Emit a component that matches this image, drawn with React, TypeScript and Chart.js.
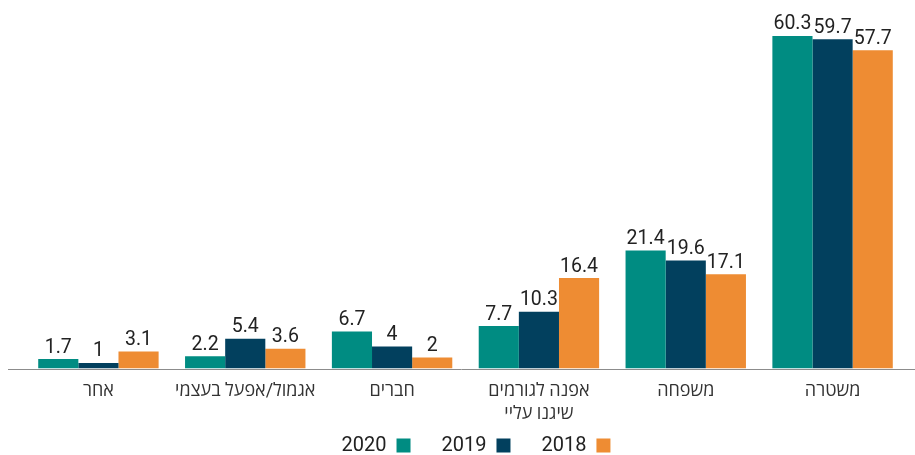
import React, { useEffect, useRef } from "react";
import { Chart, registerables } from "chart.js";

Chart.register(...registerables);

const categories: (string | string[])[] = [
  "אחר",
  "אגמול/אפעל בעצמי",
  "חברים",
  ["אפנה לגורמים", "שיגנו עליי"],
  "משפחה",
  "משטרה",
];
const seriesNames = ["2020", "2019", "2018"];
const values2020 = [1.7, 2.2, 6.7, 7.7, 21.4, 60.3];
const values2019 = [1, 5.4, 4, 10.3, 19.6, 59.7];
const values2018 = [3.1, 3.6, 2, 16.4, 17.1, 57.7];
const seriesColors = ["#008C82", "#02405E", "#EE8C33"];

const FONT = "Roboto, 'Open Sans', 'Liberation Sans', sans-serif";

const valueLabelsPlugin = {
  id: "valueLabels",
  afterDatasetsDraw(chart: any) {
    const ctx = chart.ctx;
    ctx.save();
    ctx.font = `19.5px ${FONT}`;
    ctx.fillStyle = "#222222";
    ctx.textAlign = "center";
    ctx.textBaseline = "alphabetic";
    chart.data.datasets.forEach((ds: any, di: number) => {
      const meta = chart.getDatasetMeta(di);
      meta.data.forEach((bar: any, i: number) => {
        const v = ds.data[i];
        ctx.fillText(String(v), bar.x, bar.y - 6.5);
      });
    });
    ctx.restore();
  },
};

const baselinePlugin = {
  id: "baseline",
  afterDatasetsDraw(chart: any) {
    const ctx = chart.ctx;
    const y = Math.round(chart.scales.y.getPixelForValue(0)) + 0.5;
    ctx.save();
    ctx.strokeStyle = "#8C8C8C";
    ctx.lineWidth = 1;
    ctx.beginPath();
    ctx.moveTo(8, y);
    ctx.lineTo(chart.width, y);
    ctx.stroke();
    ctx.restore();
  },
};

const layoutTweakPlugin = {
  id: "layoutTweak",
  afterLayout(chart: any) {
    const l = chart.legend;
    if (l) {
      l.left += 10.5;
      l.right += 10.5;
      l.top += 10.5;
      l.bottom += 10.5;
    }
    const x = chart.scales.x;
    if (x) {
      // let the category labels extend below the compact axis box (no clipping)
      x.bottom = chart.height;
    }
  },
};

export default function App() {
  const ref = useRef<HTMLCanvasElement | null>(null);
  useEffect(() => {
    if (!ref.current) return;
    const chart = new Chart(ref.current, {
      type: "bar",
      data: {
        labels: categories,
        datasets: [values2020, values2019, values2018].map((d, i) => ({
          label: seriesNames[i],
          data: d,
          backgroundColor: seriesColors[i],
          borderWidth: 0,
          barPercentage: 1,
          categoryPercentage: 0.82,
        })),
      },
      options: {
        animation: false,
        responsive: false,
        maintainAspectRatio: false,
        layout: { padding: { left: 25, right: 9, top: 10, bottom: 0 } },
        scales: {
          x: {
            grid: { display: false, drawTicks: false },
            border: { display: false },
            afterFit(scale: any) {
              scale.height = 25.5;
            },
            ticks: {
              color: "#333333",
              padding: 12,
              font: { family: FONT, size: 18, lineHeight: 1.25 },
              maxRotation: 0,
              autoSkip: false,
            },
          },
          y: {
            display: false,
            min: 0,
            max: 65,
          },
        },
        plugins: {
          legend: {
            position: "bottom",
            rtl: true,
            reverse: true,
            textDirection: "rtl",
            labels: {
              boxWidth: 14,
              boxHeight: 14,
              padding: 31,
              color: "#222222",
              font: { family: FONT, size: 20 },
            },
          },
          tooltip: { enabled: false },
        },
      },
      plugins: [valueLabelsPlugin, baselinePlugin, layoutTweakPlugin],
    });
    return () => chart.destroy();
  }, []);
  return (
    <>
      <style>{`body{margin:0;}`}</style>
      <canvas ref={ref} width={915} height={455} style={{ display: "block" }} />
    </>
  );
}
